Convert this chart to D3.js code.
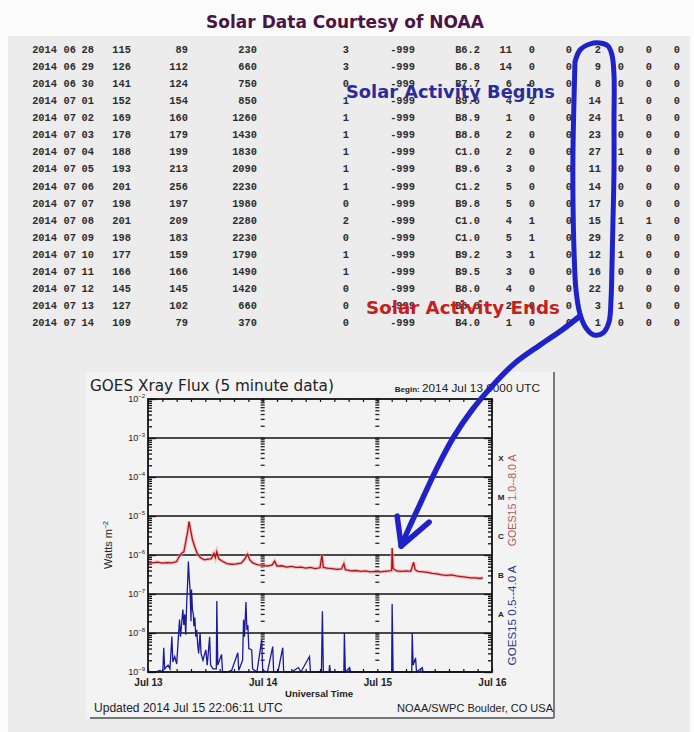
<!DOCTYPE html>
<html><head><meta charset="utf-8">
<script src="https://cdn.jsdelivr.net/npm/d3@7"></script>
<style>html,body{margin:0;padding:0;background:#fff}svg{display:block}</style>
</head><body>
<svg id="c" width="694" height="732"></svg>
<script>
// ---------------- DATA ----------------
const tableRows = [
  ["2014","06","28","115","89","230","3","-999","B6.2","11","0","0","2","0","0","0"],
  ["2014","06","29","126","112","660","3","-999","B6.8","14","0","0","9","0","0","0"],
  ["2014","06","30","141","124","750","0","-999","B7.7","6","0","0","8","0","0","0"],
  ["2014","07","01","152","154","850","1","-999","B9.6","4","2","0","14","1","0","0"],
  ["2014","07","02","169","160","1260","1","-999","B8.9","1","0","0","24","1","0","0"],
  ["2014","07","03","178","179","1430","1","-999","B8.8","2","0","0","23","0","0","0"],
  ["2014","07","04","188","199","1830","1","-999","C1.0","2","0","0","27","1","0","0"],
  ["2014","07","05","193","213","2090","1","-999","B9.6","3","0","0","11","0","0","0"],
  ["2014","07","06","201","256","2230","1","-999","C1.2","5","0","0","14","0","0","0"],
  ["2014","07","07","198","197","1980","0","-999","B9.8","5","0","0","17","0","0","0"],
  ["2014","07","08","201","209","2280","2","-999","C1.0","4","1","0","15","1","1","0"],
  ["2014","07","09","198","183","2230","0","-999","C1.0","5","1","0","29","2","0","0"],
  ["2014","07","10","177","159","1790","1","-999","B9.2","3","1","0","12","1","0","0"],
  ["2014","07","11","166","166","1490","1","-999","B9.5","3","0","0","16","0","0","0"],
  ["2014","07","12","145","145","1420","0","-999","B8.0","4","0","0","22","0","0","0"],
  ["2014","07","13","127","102","660","0","-999","B6.8","2","0","0","3","1","0","0"],
  ["2014","07","14","109","79","370","0","-999","B4.0","1","0","0","1","0","0","0"]
];

// GOES-15 long channel (1.0-8.0 A): [hours since 2014 Jul 13 00:00 UTC, W/m^2]
const longFlux = [
  [0,6.5e-7],[1,6.3e-7],[2,6.6e-7],[3,6.2e-7],[4,6.4e-7],[5,6.3e-7],[6,6.8e-7],[6.5,9e-7],[7,1.1e-6],
  [7.5,1.2e-6],[8,2.5e-6],[8.3,4e-6],[8.6,7.2e-6],[8.9,4.5e-6],[9.3,2.5e-6],[9.8,1.6e-6],[10.3,1.1e-6],
  [11,8.5e-7],[11.8,7.5e-7],[12.5,7.8e-7],[13.2,8e-7],[13.8,1.1e-6],[14.1,8.5e-7],[14.4,1.2e-6],[14.8,8e-7],
  [15.5,7e-7],[16.5,6e-7],[17.5,5.8e-7],[18.5,5.9e-7],[19.5,6.2e-7],[20.3,8e-7],[20.8,1.05e-6],[21.3,7.5e-7],
  [22,6.2e-7],[23,5.6e-7],[24,5.5e-7],[25,5.2e-7],[26,5.6e-7],[26.5,7e-7],[27,5.2e-7],[28,5.3e-7],[29,4.9e-7],
  [30,5.1e-7],[31,4.8e-7],[32,4.9e-7],[33,4.6e-7],[34,4.8e-7],[35,4.5e-7],[36,4.7e-7],[36.4,1.0e-6],[36.7,4.8e-7],
  [37.5,4.6e-7],[38.5,4.5e-7],[39.5,4.3e-7],[40.5,4.4e-7],[41,6e-7],[41.3,4.2e-7],[42.5,3.9e-7],[43.5,4e-7],
  [44.5,3.8e-7],[45.5,3.9e-7],[46.5,3.7e-7],[47.5,3.8e-7],[48.5,3.7e-7],[49.5,3.8e-7],[50.5,3.9e-7],[51,4e-7],
  [51.1,1.5e-6],[51.3,4.5e-7],[52,3.9e-7],[53,3.8e-7],[54,3.9e-7],[55,3.8e-7],[55.6,6.5e-7],[55.9,4.2e-7],
  [56.5,3.8e-7],[57.5,3.7e-7],[58.5,3.6e-7],[59.5,3.4e-7],[60.5,3.3e-7],[61.5,3.1e-7],[62.5,3.0e-7],[63.5,3.1e-7],
  [64.5,2.9e-7],[65.5,2.8e-7],[66.5,2.7e-7],[67.5,2.6e-7],[68.5,2.6e-7],[69.5,2.5e-7],[70.1,2.6e-7]
];

// GOES-15 short channel (0.5-4.0 A)
const shortFlux = [
  [0,8e-10],[1.5,9e-10],[2.5,1.1e-9],[3.1,1e-9],[3.3,4.2e-9],[3.5,1.2e-9],[4.2,1.5e-9],[4.6,1.2e-9],[5.0,8.1e-9],
  [5.2,1.8e-9],[5.6,2.5e-9],[6.0,1.6e-9],[6.3,6e-9],[6.6,2.2e-8],[6.8,8e-9],[7.0,1.5e-8],[7.3,4e-8],[7.5,1.6e-8],
  [7.7,3e-8],[7.9,9e-9],[8.1,6e-8],[8.3,2e-7],[8.45,6.8e-7],[8.6,3e-7],[8.8,1.3e-7],[9.0,2e-8],[9.1,1.3e-7],
  [9.3,4e-8],[9.5,3e-8],[9.6,1.5e-8],[9.8,2.5e-8],[10.0,8e-9],[10.2,1.2e-8],[10.4,5e-9],[10.6,3e-9],[10.9,1e-8],
  [11.1,3e-9],[11.5,2e-9],[12.1,3.7e-9],[12.4,1.5e-9],[12.9,8e-9],[13.1,1.5e-9],[13.6,1.2e-9],[14.3,1.2e-9],
  [14.4,6.6e-8],[14.6,1.5e-9],[15.4,2.8e-9],[15.6,1e-9],[16.5,9e-10],[17.5,1.1e-9],[18.8,3.1e-9],[19.0,1.1e-9],
  [19.8,2e-9],[20.0,2.2e-8],[20.2,8e-9],[20.5,6.2e-8],[20.7,1.2e-8],[20.9,1.6e-8],[21.1,4e-9],[21.7,3.7e-9],
  [21.9,1.2e-9],[22.8,1e-9],[23.8,6.8e-9],[24.0,1.1e-9],[25,9e-10],[26.1,4.5e-9],[26.3,1e-9],[27.2,9e-10],
  [28.2,4.2e-9],[28.4,1e-9],[30,8e-10],[31.5,1.3e-9],[32,8e-10],[33.8,2.5e-9],[34,8e-10],[36.3,8e-10],
  [36.5,3.6e-8],[36.7,8e-10],[37.9,8e-10],[38.0,1.5e-9],[38.2,8e-10],[41.0,8e-10],[41.1,1e-8],[41.3,8e-10],
  [42.2,1.3e-9],[42.4,8e-10],[45,8e-10],[48,7e-10],[51.0,8e-10],[51.1,5.5e-8],[51.3,9e-10],[55.2,8e-10],
  [55.3,1e-8],[55.5,1.5e-9],[56.0,2.3e-9],[56.2,8e-10],[57.4,1.3e-9],[57.6,8e-10],[62,7e-10],[66,7e-10],[70.1,7e-10]
];

const dayLabels = ["Jul 13","Jul 14","Jul 15","Jul 16"];
const dayHours = [0,24,48,72];
const decades = [-9,-8,-7,-6,-5,-4,-3,-2];
const flareClasses = ["A","B","C","M","X"];
const flareDecades = [-8,-7,-6,-5,-4];

// ---------------- DRAW ----------------
const svg = d3.select("#c");
const W = 694, H = 732;
function fit(t, w){ const l = t.node().getComputedTextLength(); t.attr("font-size", (+t.attr("font-size")) * w / l); return t; }

svg.append("rect").attr("width",W).attr("height",H).attr("fill","#fbfbfb");
svg.append("rect").attr("x",8).attr("y",36).attr("width",682).attr("height",H-36).attr("fill","#ececec");

// title
fit(svg.append("text").attr("x",345).attr("y",28).attr("text-anchor","middle")
  .attr("font-family","'DejaVu Sans',Verdana,sans-serif").attr("font-weight","bold").attr("font-size",16)
  .attr("fill","#4b1445").text("Solar Data Courtesy of NOAA"), 278);

// table
const colRight = [57,76,94,131,188,257,349,415,480,512,535,572,601,624,652,680];
const rowY = d3.scaleLinear().domain([0,16]).range([53,326]);
const tg = svg.append("g").attr("font-family","'Liberation Mono','DejaVu Sans Mono',monospace")
  .attr("font-size",11.5).attr("font-weight","bold").attr("fill","#2c2c2c");
tableRows.forEach((r,i)=>r.forEach((v,j)=>{
  tg.append("text").attr("transform",`translate(${colRight[j]},${rowY(i)}) scale(0.9,1)`)
    .attr("text-anchor","end").text(v);
}));

// GOES panel
const pg = svg.append("g");
pg.append("rect").attr("x",86).attr("y",372).attr("width",468).attr("height",346).attr("fill","#f3f3f3");
pg.append("line").attr("x1",554).attr("x2",554).attr("y1",372).attr("y2",718).attr("stroke","#555").attr("stroke-width",1.5);
pg.append("line").attr("x1",90).attr("x2",554).attr("y1",718).attr("y2",718).attr("stroke","#777").attr("stroke-width",2);

const x = d3.scaleLinear().domain([0,72]).range([148,492]);
const y = d3.scaleLog().domain([1e-9,1e-2]).range([672,399]).clamp(true);
const x0 = x.range()[0], x1 = x.range()[1], y0 = y.range()[1], y1 = y.range()[0];

const minorVals = [];
decades.slice(0,-1).forEach(d=>{ for(let k=2;k<=9;k++) minorVals.push(k*Math.pow(10,d)); });
const majorVals = decades.map(d=>Math.pow(10,d));

// grid lines (flare class boundaries)
pg.append("g").selectAll("line").data(majorVals.slice(1,-1)).join("line")
  .attr("x1",x0).attr("x2",x1).attr("y1",d=>y(d)).attr("y2",d=>y(d))
  .attr("stroke","#111").attr("stroke-width",1.6);

// left / right minor & major ticks (inward)
function yTicks(xpos, dir){
  const g = pg.append("g").attr("transform",`translate(${xpos},0)`);
  const axMinor = (dir>0?d3.axisLeft(y):d3.axisRight(y)).tickValues(minorVals).tickSize(-4).tickFormat("");
  const axMajor = (dir>0?d3.axisLeft(y):d3.axisRight(y)).tickValues(majorVals).tickSize(-8).tickFormat("");
  g.append("g").call(axMinor).call(s=>s.select(".domain").remove());
  g.append("g").call(axMajor).call(s=>s.select(".domain").remove());
  g.selectAll("line").attr("stroke","#111").attr("stroke-width",1.3);
}
yTicks(x0, 1); yTicks(x1, -1);

// day-boundary dotted columns
[24,48].forEach(h=>{
  pg.append("g").selectAll("line").data(minorVals.concat(majorVals)).join("line")
    .attr("x1",x(h)-2).attr("x2",x(h)+2).attr("y1",d=>y(d)).attr("y2",d=>y(d))
    .attr("stroke","#222").attr("stroke-width",1.3);
});

// hour ticks top and bottom
pg.append("g").attr("transform",`translate(0,${y0})`)
  .call(d3.axisTop(x).tickValues(d3.range(0,73,3)).tickSize(-3).tickFormat(""))
  .call(s=>s.select(".domain").remove()).selectAll("line").attr("stroke","#111").attr("stroke-width",1.2);
pg.append("g").attr("transform",`translate(0,${y1})`)
  .call(d3.axisBottom(x).tickValues(d3.range(0,73,3)).tickSize(-3).tickFormat(""))
  .call(s=>s.select(".domain").remove()).selectAll("line").attr("stroke","#111").attr("stroke-width",1.2);

// data lines
const line = d3.line().x(d=>x(d[0])).y(d=>y(d[1]));
pg.append("path").datum(longFlux).attr("d",line).attr("fill","none").attr("stroke","#f2a0a0").attr("stroke-width",3.5).attr("opacity",0.6);
pg.append("path").datum(longFlux).attr("d",line).attr("fill","none").attr("stroke","#a8121a").attr("stroke-width",1.3);
pg.append("path").datum(shortFlux).attr("d",line).attr("fill","none").attr("stroke","#1a1a9a").attr("stroke-width",1.3);

// frame
pg.append("rect").attr("x",x0).attr("y",y0).attr("width",x1-x0).attr("height",y1-y0)
  .attr("fill","none").attr("stroke","#111").attr("stroke-width",1.8);

const sans = "'Liberation Sans',Arial,sans-serif";
const wide = "'DejaVu Sans',Verdana,sans-serif";
// y tick labels
decades.forEach(d=>{
  const t = pg.append("text").attr("x",x0-3).attr("y",y(Math.pow(10,d))+3).attr("text-anchor","end")
    .attr("font-family",sans).attr("font-size",9).attr("fill","#222");
  t.append("tspan").text("10");
  t.append("tspan").attr("dy",-4).attr("font-size",6).text("−"+(-d));
});
// y title
const yt = pg.append("text").attr("transform","translate(112,545) rotate(-90)").attr("text-anchor","middle")
  .attr("font-family",sans).attr("font-size",11).attr("fill","#222");
yt.append("tspan").text("Watts m");
yt.append("tspan").attr("dy",-4).attr("font-size",7).text("−2");

// x labels
pg.append("g").attr("transform",`translate(0,${y1})`)
  .call(d3.axisBottom(x).tickValues(dayHours).tickFormat((d,i)=>dayLabels[i]).tickSize(0).tickPadding(7))
  .call(s=>s.select(".domain").remove())
  .selectAll("text").attr("font-family",sans).attr("font-size",10).attr("font-weight","bold").attr("fill","#222");
fit(pg.append("text").attr("x",319).attr("y",697).attr("text-anchor","middle").attr("font-family",sans)
  .attr("font-size",9).attr("font-weight","bold").attr("fill","#222").text("Universal Time"), 68);

// flare class letters
flareClasses.forEach((c,i)=>{
  pg.append("text").attr("x",x1+9).attr("y",y(Math.pow(10,flareDecades[i]+0.5))+3)
    .attr("text-anchor","middle").attr("font-family",sans).attr("font-size",8).attr("font-weight","bold")
    .attr("fill","#222").text(c);
});
// channel labels
fit(pg.append("text").attr("transform",`translate(516,${y(Math.pow(10,-4.6))}) rotate(-90)`).attr("text-anchor","middle")
  .attr("font-family",sans).attr("font-size",10).attr("fill","#b35858").text("GOES15 1.0--8.0 A"), 92);
fit(pg.append("text").attr("transform",`translate(516,${y(Math.pow(10,-7.55))}) rotate(-90)`).attr("text-anchor","middle")
  .attr("font-family",sans).attr("font-size",10).attr("fill","#34348a").text("GOES15 0.5--4.0 A"), 100);

// header / footer texts
fit(pg.append("text").attr("x",90).attr("y",391).attr("font-family",wide).attr("font-size",12)
  .attr("fill","#222").text("GOES Xray Flux (5 minute data)"), 244);
const bt = pg.append("text").attr("x",540).attr("y",392).attr("text-anchor","end").attr("font-family",sans)
  .attr("font-size",9.5).attr("fill","#222");
bt.append("tspan").attr("font-size",8).attr("font-weight","bold").text("Begin:  ");
bt.append("tspan").text("2014 Jul 13 0000 UTC");
fit(bt, 152);
fit(pg.append("text").attr("x",94).attr("y",712).attr("font-family",sans).attr("font-size",11)
  .attr("fill","#222").text("Updated 2014 Jul 15 22:06:11 UTC"), 189);
fit(pg.append("text").attr("x",553).attr("y",712).attr("text-anchor","end").attr("font-family",sans).attr("font-size",11)
  .attr("fill","#222").text("NOAA/SWPC Boulder, CO USA"), 156);

// annotations
fit(svg.append("text").attr("x",346).attr("y",98).attr("font-family",wide).attr("font-weight","bold")
  .attr("font-size",15).attr("fill","#2b2b9a").text("Solar Activity Begins"), 209);

const pen = "#1f22c6";
const loopPts = [[575,62],[580,50],[590,44],[600,43],[608,46],[612,55],[614,75],[614,120],[614,170],[613,220],
  [612,265],[611,300],[609,322],[603,333],[594,335],[586,328],[580,314],[576,290],[574,250],[573,200],[573,150],[574,100],[575,62]];
svg.append("path").attr("d",d3.line().curve(d3.curveCatmullRom)(loopPts)).attr("fill","none")
  .attr("stroke",pen).attr("stroke-width",5).attr("stroke-linecap","round").attr("stroke-linejoin","round");

fit(svg.append("text").attr("x",366).attr("y",314).attr("font-family",wide).attr("font-weight","bold")
  .attr("font-size",16).attr("fill","#c81e1e").text("Solar Activity Ends"), 194);

const tipX = x(51.1)+9, tipY = y(1.5e-6)-2;
const shaft = [[580,316],[562,330],[540,345],[515,363],[494,384],[472,410],[453,438],[436,470],[421,502],[409,528],[tipX,tipY]];
svg.append("path").attr("d",d3.line().curve(d3.curveCatmullRom)(shaft)).attr("fill","none")
  .attr("stroke",pen).attr("stroke-width",5.5).attr("stroke-linecap","round");
svg.append("path").attr("d",`M${tipX-4},${tipY-30}L${tipX},${tipY}L${tipX+28},${tipY-24}`).attr("fill","none")
  .attr("stroke",pen).attr("stroke-width",5.5).attr("stroke-linecap","round").attr("stroke-linejoin","round");
</script>
</body></html>
